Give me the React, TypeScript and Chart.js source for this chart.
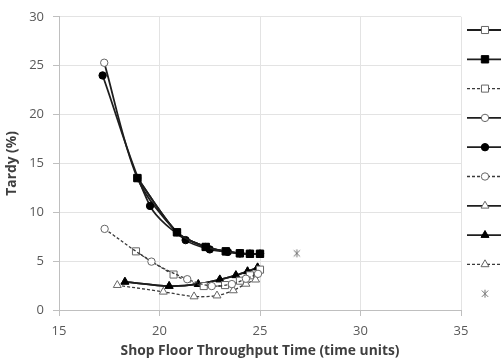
import React, { useEffect, useRef } from "react";
import { Chart, registerables } from "chart.js";

Chart.register(...registerables);

// X tick range and labels
const xTicks = [15, 20, 25, 30, 35];
const yTicks = [0, 5, 10, 15, 20, 25, 30];

// Series 1: solid line, hollow square
const s1X = [18.9, 20.87, 22.3, 23.3, 24.0, 24.5, 25.0];
const s1Y = [13.5, 7.95, 6.45, 6.0, 5.8, 5.75, 5.75];
// Series 2: solid line, filled square
const s2X = [18.9, 20.87, 22.3, 23.3, 24.0, 24.5, 25.0];
const s2Y = [13.5, 7.95, 6.45, 6.0, 5.8, 5.75, 5.75];
// Series 3: dashed line, hollow square
const s3X = [18.83, 20.7, 22.2, 23.26, 24.0, 24.5, 25.0];
const s3Y = [6.0, 3.63, 2.45, 2.55, 3.0, 3.55, 4.13];
// Series 4: solid line, hollow circle
const s4X = [17.25, 18.9, 20.87, 22.3, 23.3, 24.0, 24.5, 25.0];
const s4Y = [25.3, 13.5, 7.95, 6.45, 6.0, 5.8, 5.75, 5.75];
// Series 5: solid line, filled circle
const s5X = [17.17, 19.53, 21.3, 22.5, 23.4, 24.0, 24.5, 25.0];
const s5Y = [24.0, 10.65, 7.15, 6.2, 5.95, 5.8, 5.75, 5.75];
// Series 6: dashed line, hollow circle
const s6X = [17.27, 19.6, 21.38, 22.6, 23.6, 24.3, 24.9];
const s6Y = [8.3, 4.95, 3.15, 2.45, 2.65, 3.2, 3.7];
// Series 7: solid line, hollow triangle
const s7X = [18.28, 20.48, 21.93, 23.0, 23.8, 24.38, 24.88];
const s7Y = [2.88, 2.45, 2.64, 3.12, 3.55, 3.95, 4.35];
// Series 8: solid line, filled triangle
const s8X = [18.28, 20.48, 21.93, 23.0, 23.8, 24.38, 24.88];
const s8Y = [2.88, 2.45, 2.64, 3.12, 3.55, 3.95, 4.35];
// Series 9: dashed line, hollow triangle
const s9X = [17.9, 20.19, 21.72, 22.86, 23.67, 24.3, 24.78];
const s9Y = [2.54, 1.86, 1.38, 1.47, 2.0, 2.67, 3.1];
// Series 10: asterisk marker only
const s10X = [26.83];
const s10Y = [5.8];

const toPts = (xs: number[], ys: number[]) => xs.map((x, i) => ({ x, y: ys[i] }));

const DARK = "#1e1e1e";
const DASHC = "#3a3a3a";

function drawMarker(ctx: CanvasRenderingContext2D, style: string, x: number, y: number, r: number, fill: string, stroke: string, lw: number) {
  ctx.save();
  ctx.beginPath();
  ctx.lineWidth = lw;
  ctx.strokeStyle = stroke;
  ctx.fillStyle = fill;
  ctx.setLineDash([]);
  if (style === "rect") {
    const s = r * Math.SQRT1_2;
    ctx.rect(x - s, y - s, 2 * s, 2 * s);
    ctx.fill();
    ctx.stroke();
  } else if (style === "circle") {
    ctx.arc(x, y, r, 0, Math.PI * 2);
    ctx.fill();
    ctx.stroke();
  } else if (style === "triangle") {
    const a = -Math.PI / 2;
    for (let k = 0; k < 3; k++) {
      const ang = a + (k * 2 * Math.PI) / 3;
      const px = x + Math.cos(ang) * r;
      const py = y + Math.sin(ang) * r;
      if (k === 0) ctx.moveTo(px, py);
      else ctx.lineTo(px, py);
    }
    ctx.closePath();
    ctx.fill();
    ctx.stroke();
  } else if (style === "xstar") {
    const d = r * 0.8;
    ctx.moveTo(x, y - r);
    ctx.lineTo(x, y + r);
    ctx.moveTo(x - d, y - d);
    ctx.lineTo(x + d, y + d);
    ctx.moveTo(x - d, y + d);
    ctx.lineTo(x + d, y - d);
    ctx.stroke();
  }
  ctx.restore();
}

function makeStarImage(r: number, color: string) {
  const c = document.createElement("canvas");
  const size = Math.ceil(r * 2 + 2);
  c.width = size;
  c.height = size;
  const ctx = c.getContext("2d") as CanvasRenderingContext2D;
  drawMarker(ctx, "xstar", size / 2, size / 2, r, "transparent", color, 1);
  return c;
}

const sideLegend = {
  id: "sideLegend",
  afterDraw(chart: any) {
    const ctx: CanvasRenderingContext2D = chart.ctx;
    const x0 = chart.chartArea.right + 6;
    const mx = chart.chartArea.right + 24;
    chart.data.datasets.forEach((ds: any, i: number) => {
      const y = 30 + i * 29.3;
      ctx.save();
      if (ds.showLine) {
        ctx.beginPath();
        ctx.strokeStyle = ds.borderColor;
        ctx.lineWidth = ds.borderWidth;
        ctx.setLineDash(ds.borderDash || []);
        ctx.moveTo(x0, y);
        ctx.lineTo(chart.width + 5, y);
        ctx.stroke();
      }
      ctx.restore();
      const style = ds.legendStyle || ds.pointStyle;
      drawMarker(ctx, style, mx, y, ds.pointRadius, ds.pointBackgroundColor, ds.pointBorderColor, ds.pointBorderWidth);
    });
  },
};

function mk(label: string, xs: number[], ys: number[], style: any, filled: boolean, dashed: boolean, radius: number, showLine = true) {
  const lineColor = dashed ? DASHC : DARK;
  return {
    label,
    data: toPts(xs, ys),
    showLine,
    tension: 0.3,
    borderColor: lineColor,
    borderWidth: dashed ? 1.3 : 1.8,
    borderDash: dashed ? [3, 2] : [],
    pointStyle: style,
    pointRadius: radius,
    pointBackgroundColor: filled ? "#000000" : "#ffffff",
    pointBorderColor: filled ? "#000000" : "#666666",
    pointBorderWidth: 1,
    fill: false,
  };
}

export default function App() {
  const ref = useRef<HTMLCanvasElement | null>(null);

  useEffect(() => {
    if (!ref.current) return;
    const starImg = makeStarImage(4, "#777777");
    const datasets: any[] = [
      mk("S1", s1X, s1Y, "rect", false, false, 5),
      mk("S2", s2X, s2Y, "rect", true, false, 5.2),
      mk("S3", s3X, s3Y, "rect", false, true, 5),
      mk("S4", s4X, s4Y, "circle", false, false, 3.7),
      mk("S5", s5X, s5Y, "circle", true, false, 3.7),
      mk("S6", s6X, s6Y, "circle", false, true, 3.7),
      mk("S7", s7X, s7Y, "triangle", false, false, 4.6),
      mk("S8", s8X, s8Y, "triangle", true, false, 4.6),
      mk("S9", s9X, s9Y, "triangle", false, true, 4.6),
      { ...mk("S10", s10X, s10Y, starImg, false, false, 4, false), legendStyle: "xstar", pointBorderColor: "#777777", pointBackgroundColor: "transparent" },
    ];
    const orders = [5, 1, 4, 6, 2, 3, 8, 7, 9, 0];
    datasets.forEach((d, i) => (d.order = orders[i]));

    const tickFont = { family: "'Open Sans', 'Liberation Sans', sans-serif", size: 13 };
    const titleFont = { family: "'Open Sans', 'Liberation Sans', sans-serif", size: 13.8, weight: "bold" };
    const chart = new Chart(ref.current, {
      type: "scatter",
      data: { datasets },
      plugins: [sideLegend],
      options: {
        responsive: false,
        animation: false,
        layout: { padding: { top: 12, right: 40, left: 0, bottom: 0 } },
        plugins: { legend: { display: false }, tooltip: { enabled: false } },
        scales: {
          x: {
            type: "linear",
            min: xTicks[0],
            max: xTicks[xTicks.length - 1],
            afterBuildTicks: (s: any) => { s.ticks = xTicks.map((v) => ({ value: v })); },
            afterFit: (s: any) => { s.height = 54; },
            ticks: { color: "#595959", font: tickFont, padding: 7, maxRotation: 0 },
            grid: { color: "#e3e3e3", tickColor: "#bfbfbf", tickLength: 6, lineWidth: 1 },
            border: { color: "#bfbfbf", width: 1 },
            title: {
              display: true,
              text: "Shop Floor Throughput Time (time units)",
              color: "#3f3f3f",
              font: titleFont,
              padding: { top: 0, bottom: 5 },
            },
          },
          y: {
            type: "linear",
            min: yTicks[0],
            max: yTicks[yTicks.length - 1],
            afterBuildTicks: (s: any) => { s.ticks = yTicks.map((v) => ({ value: v })); },
            afterFit: (s: any) => { s.width = 59; },
            ticks: { color: "#595959", font: tickFont, padding: 9 },
            grid: { color: "#e3e3e3", tickColor: "#bfbfbf", tickLength: 6, lineWidth: 1 },
            border: { color: "#bfbfbf", width: 1 },
            title: {
              display: true,
              text: "Tardy (%)",
              color: "#3f3f3f",
              font: titleFont,
              padding: { top: 4, bottom: 0 },
            },
          },
        },
      },
    } as any);
    return () => chart.destroy();
  }, []);

  return (
    <div style={{ width: 501, height: 364, position: "relative", background: "#fff" }}>
      <style>{"body{margin:0;}"}</style>
      <canvas ref={ref} width={501} height={364} style={{ display: "block", width: 501, height: 364 }} />
    </div>
  );
}
